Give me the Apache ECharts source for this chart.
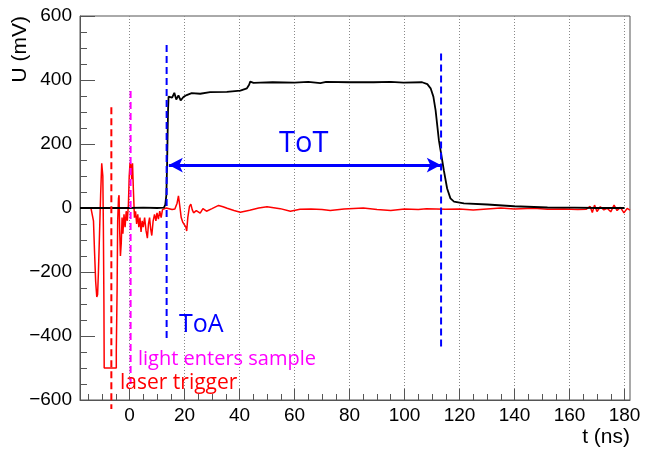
<!DOCTYPE html>
<html><head><meta charset="utf-8">
<script src="https://cdn.jsdelivr.net/npm/echarts@6/dist/echarts.min.js"></script>
<style>html,body{margin:0;padding:0;background:#fff}#c{width:646px;height:450px}</style>
</head><body><div id="c"></div>
<script>
// ---- data (t in ns, U in mV) ----
const timeRed = [-18,-16,-14,-13.4,-13.1,-12.7,-12.3,-11.9,-11.6,-11.3,-10.9,-10.5,-10.1,-9.9,-9.7,-9.5,-9.3,-9.2,-4.8,-4.8,-4.6,-4.5,-4.3,-4.0,-3.8,-3.6,-3.3,-3.0,-2.7,-2.4,-2.0,-1.6,-1.2,-0.8,-0.4,-0.1,0.2,0.5,0.8,1.1,1.4,1.8,2.2,2.6,3.0,3.4,3.8,4.2,4.6,5.0,5.5,6.0,6.5,6.9,7.3,7.7,8.1,8.6,9.1,9.6,10.0,10.5,11.0,11.5,12.0,12.5,13.3,14.0,15.5,16.5,17.3,17.8,18.3,18.8,19.4,20.0,20.5,20.8,21.2,21.8,22.3,22.8,23.3,24.3,25.7,26.7,28,30,32.4,34,35.5,38,40.3,43.7,47,50,54.8,58.5,62,66,70,73,78,85,90,95,100,105,108,115,120,125,130,135,140,147,152,158,163,166,167.5,168.3,169.1,170,171.2,172.5,173.7,175,176.2,177.3,178.5,179.8,181,182];
const voltRed = [0,-1,-1,-3,-40,-140,-230,-278,-270,-200,-80,40,140,145,100,-60,-300,-500,-500,-445,-445,-250,-40,30,40,-60,-150,-110,-30,-80,-20,-60,-10,-40,10,100,142,135,90,140,60,-30,-10,-50,-20,-60,-30,-75,-40,-60,-30,-70,-94,-50,-30,-65,-86,-40,-20,-40,-15,-35,-10,-30,-5,-10,0,-3,-5,-3,15,38,5,-30,-45,-40,-60,-72,-30,5,12,-5,-15,-8,-16,-2,-10,-2,8,4,-1,-8,-13,-7,0,4,-2,-10,-4,-3,-5,-8,-3,0,-5,-8,-3,-5,-2,-4,-3,-6,-3,0,-3,-1,-4,-3,-5,-4,5,-14,9,-11,4,-6,-1,-12,9,-8,2,-15,-1,-7];
const timeBlack = [-18,0,5,10,12.5,13.0,13.4,13.7,14.0,14.2,14.8,15.5,16.3,17.0,17.8,18.6,19.6,20.8,22.6,25.7,29.3,35.4,40.3,42.7,43.5,43.9,45.1,47.5,52,60,65,69.4,71.5,80,88.8,95,99.6,106.4,108.3,109.5,110.5,111.3,112.5,113.1,114.3,115.5,116.7,118,121.6,130.1,139.8,152,161.7,170,180];
const voltBlack = [0,0,1,0,1,10,40,150,300,348,353,345,360,339,352,336,347,353,359,357,362,363,367,374,385,395,391,392,393,392,394,390,394,393,393,394,392,393,387,374,348,306,212,181,118,61,30,20,14.5,11,5.5,1.5,1,0,0];
const xTickValues = [0,20,40,60,80,100,120,140,160,180];
const yTickValues = [-600,-400,-200,0,200,400,600];
// annotation markers: t position, top and bottom U of each dashed line
const markerTimes = [-6.6, 0.4, 13.5, 113.3];
const markerTops = [315, 366, 509, 483];
const markerBottoms = [-628, -558, -419, -445];
const totStart = 14.3, totEnd = 113.2, totLevel = 134;

const zip = (a, b) => a.map((v, i) => [v, b[i]]);
const minorX = [];
for (let v = -15; v <= 180; v += 5) if (v % 20 !== 0) minorX.push(v);

const markerColors = ['#ff0000', '#ff00ff', '#0000ff', '#0000ff'];

const axisFont = {fontFamily: 'Liberation Sans, Arial, sans-serif', fontSize: 19, color: '#000'};
const annoFont = 'Open Sans, sans-serif';

const chart = echarts.init(document.getElementById('c'), null, {renderer: 'canvas'});
chart.setOption({
  animation: false,
  backgroundColor: '#fff',
  grid: {left: 80, right: 16, top: 16, bottom: 50, show: true, borderColor: '#555', borderWidth: 1},
  xAxis: [{
    type: 'value', min: -18, max: 182, splitNumber: 10,
    axisLine: {onZero: false, lineStyle: {color: '#555', width: 1}},
    axisTick: {inside: true, length: 11, customValues: xTickValues, lineStyle: {color: '#555'}},
    axisLabel: Object.assign({margin: 6, customValues: xTickValues}, axisFont),
    splitLine: {show: true, lineStyle: {type: [1, 2], color: '#888', width: 1}}
  }, {
    type: 'value', min: -18, max: 182, position: 'bottom', gridIndex: 0,
    axisLine: {show: false, onZero: false},
    axisTick: {inside: true, length: 6, customValues: minorX, lineStyle: {color: '#555'}},
    axisLabel: {show: false},
    splitLine: {show: false}
  }],
  yAxis: {
    type: 'value', min: -600, max: 600, interval: 200,
    axisLine: {show: true, onZero: false, lineStyle: {color: '#555', width: 1}},
    axisTick: {show: true, inside: true, length: 15, lineStyle: {color: '#555'}},
    minorTick: {show: true, splitNumber: 4, length: 7, lineStyle: {color: '#555'}},
    axisLabel: Object.assign({margin: 8, formatter: v => String(v).replace('-', '\u2212')}, axisFont),
    splitLine: {show: false}
  },
  series: [{
    type: 'line', name: 'laser', data: zip(timeRed, voltRed), showSymbol: false,
    lineStyle: {color: '#ff0000', width: 1.5}, z: 2,
    markLine: {silent: true, animation: false, symbol: ['arrow', 'arrow'], symbolSize: [11, 14], label: {show: false},
      lineStyle: {color: '#0000ff', type: 'solid', width: 3},
      data: [[{coord: [totStart, totLevel]}, {coord: [totEnd, totLevel]}]]}
  }, {
    type: 'line', name: 'signal', data: zip(timeBlack, voltBlack), showSymbol: false,
    lineStyle: {color: '#000', width: 1.8}, z: 3
  }, {
    type: 'custom', name: 'markers', clip: false, z: 4, silent: true,
    data: markerTimes.map((t, i) => [t, markerTops[i], markerBottoms[i]]),
    encode: {x: 0, y: [1, 2]},
    renderItem: (params, api) => {
      const p1 = api.coord([api.value(0), api.value(1)]);
      const p2 = api.coord([api.value(0), api.value(2)]);
      return {type: 'line', shape: {x1: p1[0], y1: p1[1], x2: p2[0], y2: p2[1]},
        style: {stroke: markerColors[params.dataIndex], lineWidth: 2, lineDash: [7, 4], fill: null}};
    }
  }],
  graphic: [
    {type: 'text', x: 20, y: 16, rotation: Math.PI / 2, style: {text: 'U (mV)', font: '21px Liberation Sans, Arial, sans-serif', fill: '#000', align: 'right', verticalAlign: 'middle'}},
    {type: 'text', x: 630, y: 437, style: {text: 't (ns)', font: '21px Liberation Sans, Arial, sans-serif', fill: '#000', align: 'right', verticalAlign: 'middle'}},
    {type: 'text', x: 279, y: 144, z: 10, style: {text: 'ToT', font: '29px ' + annoFont, fill: '#0000ff', align: 'left', verticalAlign: 'middle'}},
    {type: 'text', x: 179, y: 325, z: 10, style: {text: 'ToA', font: '25px ' + annoFont, fill: '#0000ff', align: 'left', verticalAlign: 'middle'}},
    {type: 'text', x: 138, y: 359, z: 10, style: {text: 'light enters sample', font: '20px ' + annoFont, fill: '#ff00ff', align: 'left', verticalAlign: 'middle'}},
    {type: 'text', x: 120, y: 383, z: 10, style: {text: 'laser trigger', font: '21px ' + annoFont, fill: '#ff0000', align: 'left', verticalAlign: 'middle'}}
  ]
});
</script></body></html>
